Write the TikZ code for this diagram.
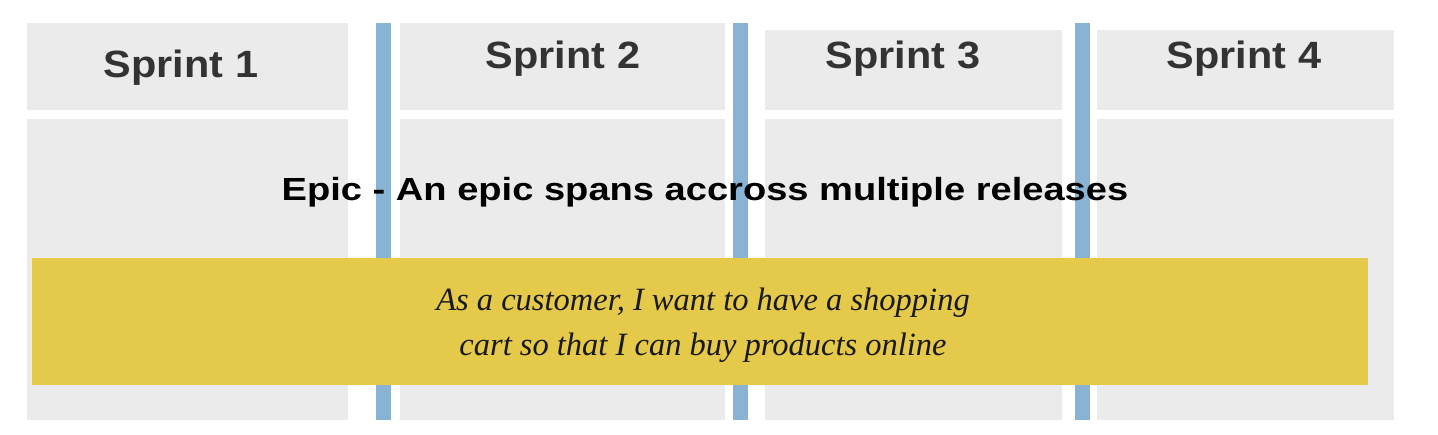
\documentclass[tikz,border=0pt]{standalone}
\usepackage{fontspec}
\usepackage{graphicx}
\setmainfont{Liberation Sans}
\newfontfamily\storyfont{Liberation Serif}
\definecolor{panelgray}{HTML}{EBEBEB}
\definecolor{sepblue}{HTML}{88B3D5}
\definecolor{storyyellow}{HTML}{E4C94B}
\definecolor{headtext}{HTML}{333333}
\begin{document}
\begin{tikzpicture}[x=1pt,y=-1pt,
  panel/.style={fill=panelgray,draw=none},
  sep/.style={fill=sepblue,draw=none},
  sprintlabel/.style={font=\fontsize{38}{40}\selectfont\bfseries,text=headtext,inner sep=0pt,anchor=base},
  epiclabel/.style={font=\fontsize{32}{34}\selectfont\bfseries,text=black,inner sep=0pt,anchor=base},
  storylabel/.style={font=\storyfont\itshape\fontsize{32.5}{45}\selectfont,text=black!90,align=center,inner sep=0pt}]
\useasboundingbox (0,0) rectangle (1438,434);
\fill[white] (0,0) rectangle (1438,434);
% header panels
\path[panel] (27,23) rectangle (348,110);
\path[panel] (400,23) rectangle (725,110);
\path[panel] (765,30) rectangle (1062,110);
\path[panel] (1097,30) rectangle (1394,110);
% body panels
\path[panel] (27,119) rectangle (348,420);
\path[panel] (400,119) rectangle (725,420);
\path[panel] (765,119) rectangle (1062,420);
\path[panel] (1097,119) rectangle (1394,420);
% blue separators
\path[sep] (376,23) rectangle (391,420);
\path[sep] (733,23) rectangle (748,420);
\path[sep] (1075,23) rectangle (1090,420);
% sprint labels
\node[sprintlabel] (s1) at (181,77) {\scalebox{1.09}[1]{Sprint 1}};
\node[sprintlabel] (s2) at (563,68) {\scalebox{1.09}[1]{Sprint 2}};
\node[sprintlabel] (s3) at (903,68) {\scalebox{1.09}[1]{Sprint 3}};
\node[sprintlabel] (s4) at (1244,68) {\scalebox{1.09}[1]{Sprint 4}};
% epic label
\node[epiclabel] (epic) at (705,200) {\scalebox{1.19}[1]{Epic - An epic spans accross multiple releases}};
% story bar
\node[fill=storyyellow,minimum width=1336pt,minimum height=127pt,inner sep=0pt] (story) at (700,321.5) {};
\node[storylabel] (storytext) at (703,325) {As a customer, I want to have a shopping\\cart so that I can buy products online};
\end{tikzpicture}
\end{document}
